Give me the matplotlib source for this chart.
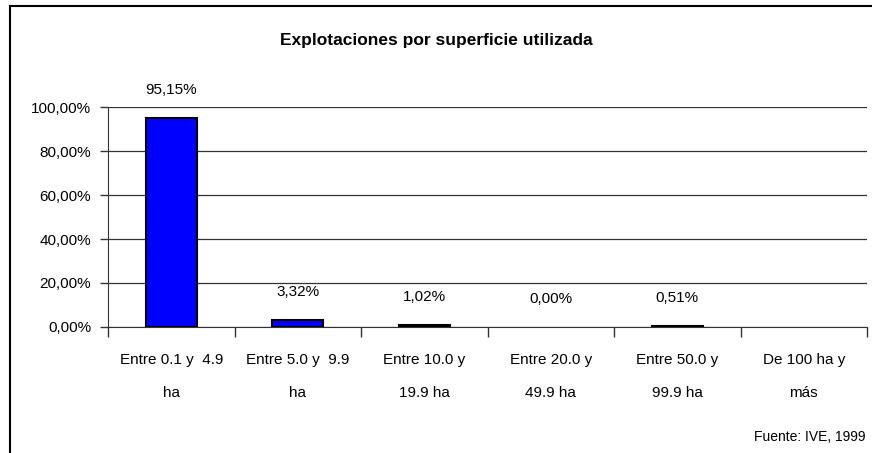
import matplotlib
matplotlib.use("Agg")
import matplotlib.pyplot as plt
from matplotlib import font_manager
from matplotlib.lines import Line2D

categories = ["Entre 0.1 y  4.9\nha", "Entre 5.0 y  9.9\nha", "Entre 10.0 y\n19.9 ha",
              "Entre 20.0 y\n49.9 ha", "Entre 50.0 y\n99.9 ha", "De 100 ha y\nmás"]
values = [95.15, 3.32, 1.02, 0.00, 0.51, None]
value_labels = ["95,15%", "3,32%", "1,02%", "0,00%", "0,51%", None]
yticks = [0, 20, 40, 60, 80, 100]
ytick_labels = ["0,00%", "20,00%", "40,00%", "60,00%", "80,00%", "100,00%"]

names = {f.name for f in font_manager.fontManager.ttflist}
fam = "Liberation Sans Narrow" if "Liberation Sans Narrow" in names else "Liberation Sans"
plt.rcParams['font.family'] = [fam, 'DejaVu Sans']

fig = plt.figure(figsize=(8.72, 4.53), dpi=100)
W, H = 872, 453
ax = fig.add_axes([108 / W, 1 - 327 / H, (867 - 108) / W, (327 - 107) / H])

x = list(range(len(categories)))
bar_vals = [v if v is not None else 0 for v in values]
bars = ax.bar(x, bar_vals, width=0.4, color="#0000FF", edgecolor="black", linewidth=1.5, zorder=3)
for i, v in enumerate(values):
    if not v:
        bars[i].set_visible(False)

ax.set_xlim(-0.5, len(categories) - 0.5)
ax.set_ylim(0, 100)
ax.set_yticks(yticks)
ax.set_yticklabels(ytick_labels, fontsize=11)
ax.yaxis.grid(True, color="#333333", linewidth=0.9, zorder=0)
ax.set_axisbelow(True)

ax.set_xticks([i - 0.5 for i in range(len(categories) + 1)])
ax.set_xticklabels([])
ax.set_xticks(x, minor=True)
ax.set_xticklabels(categories, minor=True, fontsize=11, linespacing=2.65)
ax.tick_params(axis="x", which="minor", length=0, pad=19)
ax.tick_params(axis="x", which="major", length=7, width=1, color="#333333", direction="out")
ax.tick_params(axis="y", length=6, width=1, color="#333333", direction="out", pad=6)

for s in ["top", "right"]:
    ax.spines[s].set_visible(False)
ax.spines["left"].set_color("#333333")
ax.spines["bottom"].set_color("#333333")

for i, (v, lab) in enumerate(zip(values, value_labels)):
    if lab is None:
        continue
    ax.annotate(lab, (i, v), xytext=(0, 15), textcoords="offset points",
                ha="center", va="bottom", fontsize=11)

fig.text(436 / W, 1 - 40 / H, "Explotaciones por superficie utilizada", ha="center", va="center",
         fontsize=12.5, fontweight="bold")
fig.text(865 / W, 1 - 437 / H, "Fuente: IVE, 1999", ha="right", va="center", fontsize=10)

fig.add_artist(Line2D([10 / W, 1], [1 - 6 / H, 1 - 6 / H], transform=fig.transFigure, color="black", linewidth=1.5))
fig.add_artist(Line2D([10 / W, 10 / W], [0, 1 - 6 / H], transform=fig.transFigure, color="black", linewidth=1.5))

fig.savefig("out.png", dpi=100)
